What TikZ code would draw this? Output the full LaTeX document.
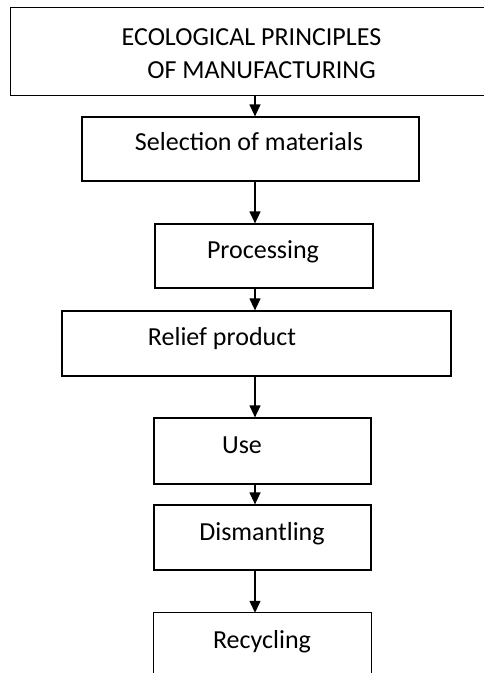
\documentclass[tikz,border=0pt]{standalone}
\usepackage{fontspec}
\setmainfont{Carlito}
\usetikzlibrary{arrows.meta}

\tikzset{
  box/.style={draw, line width=1.2pt, inner sep=0pt},
  openbox/.style={inner sep=0pt},
  rim/.style={line width=1.2pt},
  word/.style={inner sep=0pt, anchor=base, font=\fontsize{26}{33}\selectfont},
  flow/.style={line width=1.2pt, -{Triangle[width=11pt,length=12pt]}},
}

\begin{document}
\begin{tikzpicture}[x=1pt,y=-1pt]
  \useasboundingbox (0,0) rectangle (484,673);
  \coordinate (spine) at (255,0);

  % boxes
  \node[openbox, minimum width=473pt, minimum height=87pt] (eco) at (247.5,51.5) {};
  \draw[rim] (eco.north east) -| (eco.south west) -- (eco.south east);
  \node[box, minimum width=337pt, minimum height=64pt] (sel) at (250.5,149) {};
  \node[box, minimum width=218pt, minimum height=64pt] (proc) at (264,256) {};
  \node[box, minimum width=389pt, minimum height=65pt] (relief) at (256.5,343.5) {};
  \node[box, minimum width=217pt, minimum height=66pt] (use) at (262.5,451) {};
  \node[box, minimum width=217pt, minimum height=65pt] (dism) at (262.5,537.5) {};
  \node[openbox, minimum width=217pt, minimum height=60pt] (recyc) at (262.5,643) {};
  \draw[rim] (recyc.south west) |- (recyc.north east) -- (recyc.south east);

  % texts
  \node[word] (ecotxta) at (251.5,45) {ECOLOGICAL PRINCIPLES};
  \node[word] (ecotxtb) at (261.5,78) {OF MANUFACTURING};
  \node[word] (seltxt) at (249,150) {Selection of materials};
  \node[word] (proctxt) at (263,258) {Processing};
  \node[word] (relieftxt) at (222,345) {Relief product};
  \node[word] (usetxt) at (242,453) {Use};
  \node[word] (dismtxt) at (262,540) {Dismantling};
  \node[word] (recyctxt) at (262,648) {Recycling};

  \foreach \a/\b in {eco/sel, sel/proc, proc/relief, relief/use, use/dism, dism/recyc}
    \draw[flow] (\a.south -| spine) -- (\b.north -| spine);
\end{tikzpicture}
\end{document}
